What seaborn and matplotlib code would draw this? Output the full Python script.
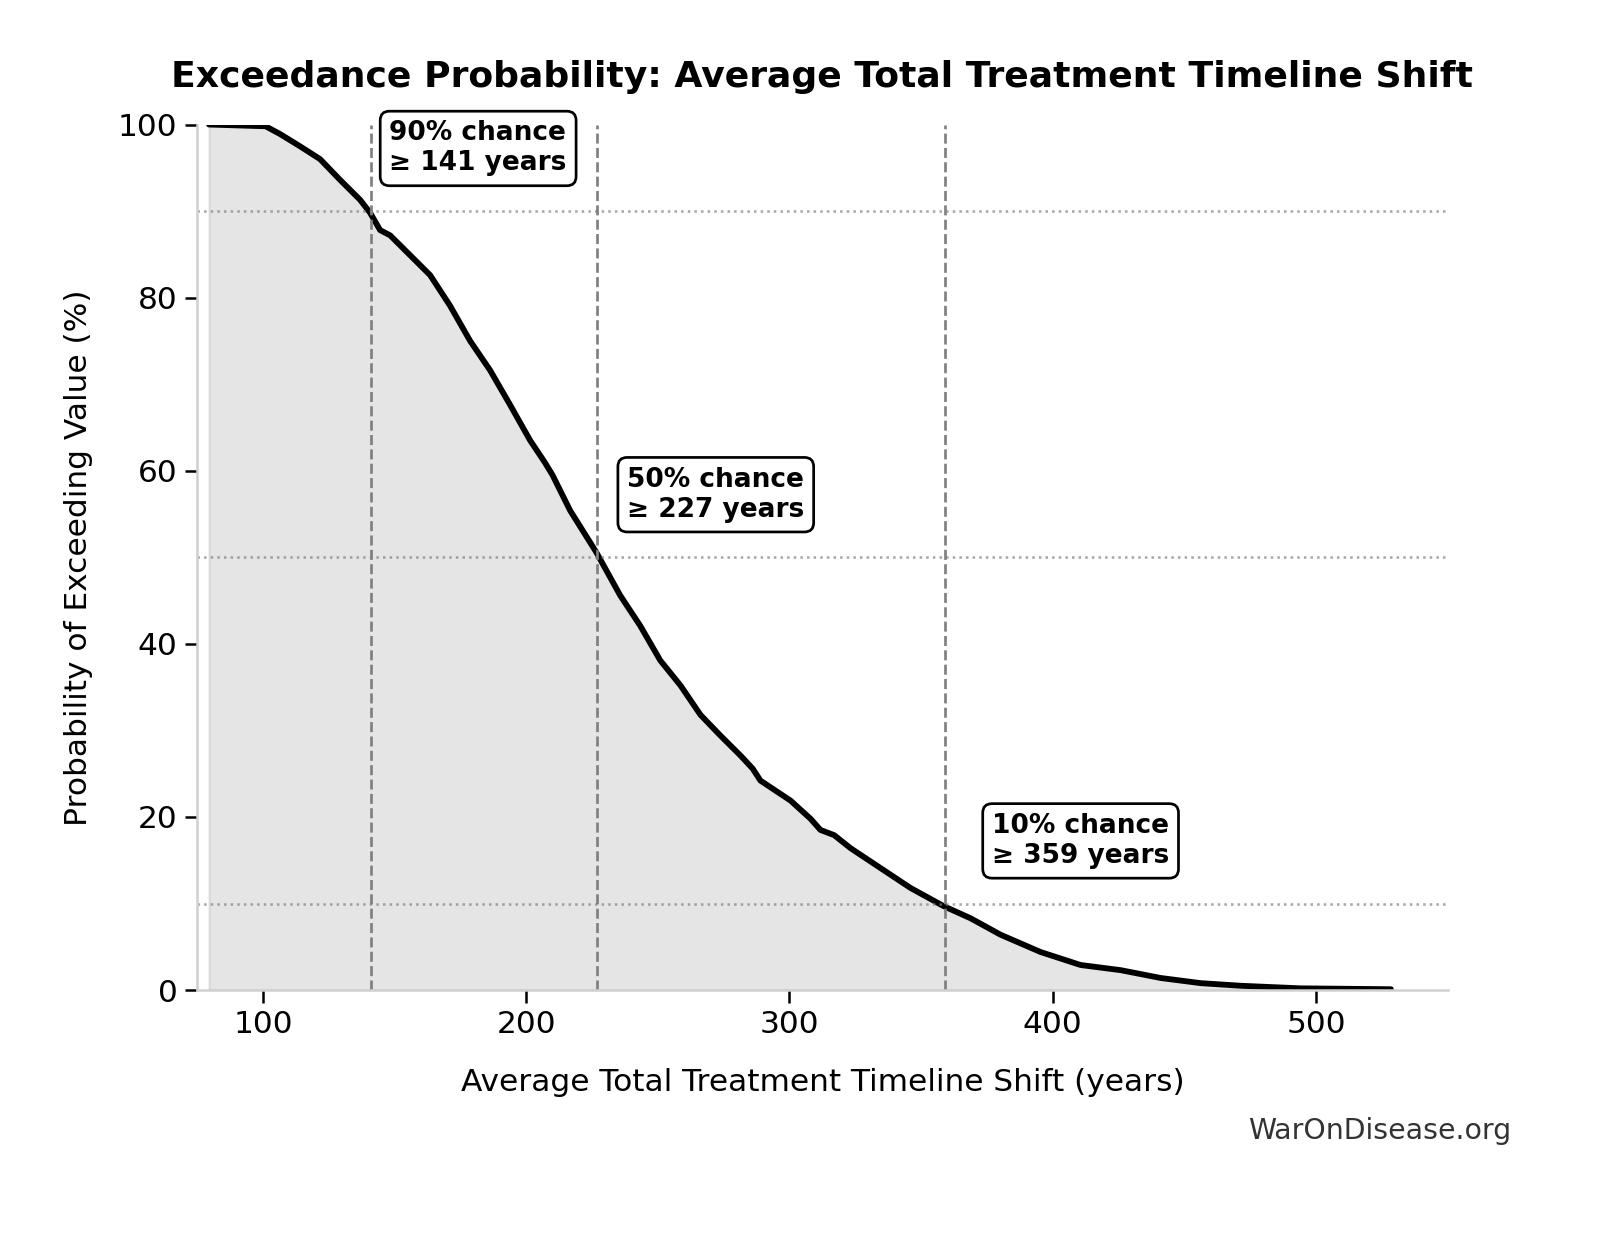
import numpy as np
import pandas as pd
import matplotlib
matplotlib.use("Agg")
import matplotlib.pyplot as plt
import seaborn as sns

# Curve values
shift_years = [79.5, 101.0, 106.5, 114.0, 121.7, 129.3, 136.9, 140.7, 144.5, 148.3,
               155.9, 163.5, 171.0, 178.7, 186.3, 193.9, 201.5, 207.0, 210.0, 216.7,
               226.6, 235.7, 243.3, 250.9, 258.6, 266.2, 273.8, 281.4, 286.0, 289.0,
               300.4, 308.0, 311.8, 317.0, 323.2, 334.6, 346.0, 358.6, 368.8, 380.2,
               395.4, 410.6, 425.9, 441.0, 456.3, 471.5, 494.3, 528.5]
exceed_pct = [100.0, 99.8, 98.9, 97.5, 96.0, 93.6, 91.3, 89.8, 87.8, 87.2,
              84.9, 82.6, 79.1, 75.0, 71.6, 67.6, 63.5, 61.0, 59.5, 55.4,
              50.6, 45.6, 42.1, 38.1, 35.2, 31.8, 29.4, 27.1, 25.6, 24.2,
              21.9, 19.8, 18.5, 17.9, 16.4, 14.1, 11.8, 9.7, 8.3, 6.4,
              4.4, 2.9, 2.3, 1.4, 0.8, 0.5, 0.2, 0.1]

marker_pcts = [90, 50, 10]
marker_values = [141, 227, 359]
marker_labels = ["90% chance\n\u2265 141 years", "50% chance\n\u2265 227 years", "10% chance\n\u2265 359 years"]

df = pd.DataFrame({"x": shift_years, "y": exceed_pct})

sns.set_theme(style="ticks")
plt.rcParams['font.family'] = ['DejaVu Sans']
plt.rcParams['text.color'] = 'black'
plt.rcParams['axes.labelcolor'] = 'black'
plt.rcParams['xtick.color'] = 'black'
plt.rcParams['ytick.color'] = 'black'

fig = plt.figure(figsize=(1603/150, 1233/150), dpi=150)
ax = fig.add_axes([0.123, 0.197, 0.780, 0.702])

ax.fill_between(df["x"], df["y"], color="gray", alpha=0.2)
sns.lineplot(data=df, x="x", y="y", ax=ax, color="black", linewidth=2.8)

for p, v, lab in zip(marker_pcts, marker_values, marker_labels):
    ax.axhline(p, color="gray", linestyle=":", linewidth=1.2, alpha=0.7)
    ax.axvline(v, ymin=0, ymax=1, color="gray", linestyle="--", linewidth=1.3)
    ax.text(v * 1.05, p + 4, lab, fontsize=12.7, fontweight="bold", ha="left", va="bottom",
            color="black",
            bbox=dict(boxstyle="round,pad=0.35", facecolor="white", edgecolor="black", linewidth=1.3))

ax.set_xlim(75, 550)
ax.set_ylim(0, 100)
ax.set_xticks([100, 200, 300, 400, 500])
ax.set_yticks([0, 20, 40, 60, 80, 100])
ax.tick_params(labelsize=15, length=6, width=1.2)
ax.set_xlabel("Average Total Treatment Timeline Shift (years)", fontsize=15, labelpad=14)
ax.set_ylabel("Probability of Exceeding Value (%)", fontsize=15, labelpad=12)
ax.set_title("Exceedance Probability: Average Total Treatment Timeline Shift",
             fontsize=17.4, fontweight="bold", pad=18, color="black")
for s in ["top", "right"]:
    ax.spines[s].set_visible(False)
for s in ["left", "bottom"]:
    ax.spines[s].set_color("#d0d0d0")
    ax.spines[s].set_linewidth(1.2)

fig.text(0.943, 0.071, "WarOnDisease.org", fontsize=13.6, color="#333333", ha="right", va="bottom")

fig.savefig("out.png", dpi=150)
